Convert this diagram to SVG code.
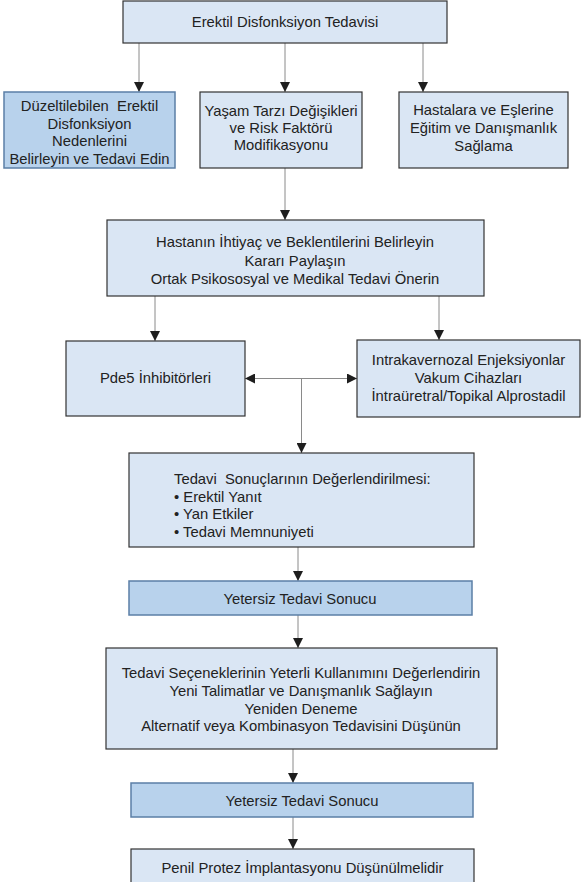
<svg xmlns="http://www.w3.org/2000/svg" width="581" height="882" viewBox="0 0 581 882">
  <style>
    .box { fill: #dae6f4; stroke: #333333; stroke-width: 1.2; }
    .hl { fill: #b8d2ec; stroke: #5b7fa6; stroke-width: 1.5; }
    text { font-family: "Liberation Sans", Arial, sans-serif; font-size: 14.8px; fill: #222222; }
    .c { text-anchor: middle; }
    .pre { white-space: pre; }
    .edge { stroke: #8a8a8a; stroke-width: 1; fill: none; }
  </style>
  <defs>
    <marker id="arr" viewBox="0 0 10 10" refX="10" refY="5" markerWidth="10" markerHeight="10" markerUnits="userSpaceOnUse" orient="auto">
      <path d="M0,0 L10,5 L0,10 Z" fill="#1e1e1e"/>
    </marker>
  </defs>
  <rect width="581" height="882" fill="#ffffff"/>

  <g id="connectors">
    <line class="edge" x1="139" y1="43" x2="139" y2="92" marker-end="url(#arr)"/>
    <line class="edge" x1="285" y1="43" x2="285" y2="92" marker-end="url(#arr)"/>
    <line class="edge" x1="423" y1="43" x2="423" y2="92" marker-end="url(#arr)"/>
    <line class="edge" x1="285" y1="168" x2="285" y2="220" marker-end="url(#arr)"/>
    <line class="edge" x1="155" y1="296" x2="155" y2="341" marker-end="url(#arr)"/>
    <line class="edge" x1="439" y1="296" x2="439" y2="340" marker-end="url(#arr)"/>
    <line class="edge" x1="300" y1="378.5" x2="245" y2="378.5" marker-end="url(#arr)"/>
    <line class="edge" x1="300" y1="378.5" x2="357" y2="378.5" marker-end="url(#arr)"/>
    <line class="edge" x1="301.5" y1="378.5" x2="301.5" y2="453" marker-end="url(#arr)"/>
    <line class="edge" x1="298" y1="547" x2="298" y2="581" marker-end="url(#arr)"/>
    <line class="edge" x1="298" y1="615" x2="298" y2="648" marker-end="url(#arr)"/>
    <line class="edge" x1="293" y1="749" x2="293" y2="783" marker-end="url(#arr)"/>
    <line class="edge" x1="293" y1="817" x2="293" y2="849" marker-end="url(#arr)"/>
  </g>

  <g id="n-top">
    <rect class="box" x="123" y="1" width="324" height="42"/>
    <text class="c" x="285" y="27">Erektil Disfonksiyon Tedavisi</text>
  </g>

  <g id="n-causes">
    <rect class="hl" x="4" y="92" width="171" height="76"/>
    <text class="c pre" x="89.5" y="111" xml:space="preserve">Düzeltilebilen  Erektil</text>
    <text class="c" x="89.5" y="128.5">Disfonksiyon</text>
    <text class="c" x="89.5" y="146">Nedenlerini</text>
    <text class="c" x="89.5" y="164">Belirleyin ve Tedavi Edin</text>
  </g>

  <g id="n-lifestyle">
    <rect class="box" x="200" y="92" width="162" height="76"/>
    <text class="c" x="281" y="116">Yaşam Tarzı Değişikleri</text>
    <text class="c" x="281" y="133">ve Risk Faktörü</text>
    <text class="c" x="281" y="150">Modifikasyonu</text>
  </g>

  <g id="n-education">
    <rect class="box" x="399" y="92" width="169" height="76"/>
    <text class="c" x="483.5" y="115">Hastalara ve Eşlerine</text>
    <text class="c" x="483.5" y="133">Eğitim ve Danışmanlık</text>
    <text class="c" x="483.5" y="151">Sağlama</text>
  </g>

  <g id="n-needs">
    <rect class="box" x="107" y="220" width="377" height="76"/>
    <text class="c" x="295" y="247">Hastanın İhtiyaç ve Beklentilerini Belirleyin</text>
    <text class="c" x="295" y="265.5">Kararı Paylaşın</text>
    <text class="c" x="295" y="284">Ortak Psikososyal ve Medikal Tedavi Önerin</text>
  </g>

  <g id="n-pde5">
    <rect class="box" x="66" y="341" width="179" height="75"/>
    <text class="c" x="155.5" y="383">Pde5 İnhibitörleri</text>
  </g>

  <g id="n-second-line">
    <rect class="box" x="357" y="340" width="223" height="77"/>
    <text class="c" x="468.5" y="365">Intrakavernozal Enjeksiyonlar</text>
    <text class="c" x="468.5" y="383">Vakum Cihazları</text>
    <text class="c" x="468.5" y="401">İntraüretral/Topikal Alprostadil</text>
  </g>

  <g id="n-assess">
    <rect class="box" x="129" y="453" width="345" height="94"/>
    <text class="pre" x="174" y="484" xml:space="preserve">Tedavi  Sonuçlarının Değerlendirilmesi:</text>
    <text x="174" y="501.5">• Erektil Yanıt</text>
    <text x="174" y="519">• Yan Etkiler</text>
    <text x="174" y="537">• Tedavi Memnuniyeti</text>
  </g>

  <g id="n-fail-1">
    <rect class="hl" x="129" y="581" width="343" height="34"/>
    <text class="c" x="300" y="604">Yetersiz Tedavi Sonucu</text>
  </g>

  <g id="n-review">
    <rect class="box" x="106" y="648" width="391" height="101"/>
    <text class="c" x="301" y="678">Tedavi Seçeneklerinin Yeterli Kullanımını Değerlendirin</text>
    <text class="c" x="301" y="696">Yeni Talimatlar ve Danışmanlık Sağlayın</text>
    <text class="c" x="301" y="713.5">Yeniden Deneme</text>
    <text class="c" x="301" y="731">Alternatif veya Kombinasyon Tedavisini Düşünün</text>
  </g>

  <g id="n-fail-2">
    <rect class="hl" x="131" y="783" width="342" height="34"/>
    <text class="c" x="302" y="806">Yetersiz Tedavi Sonucu</text>
  </g>

  <g id="n-prosthesis">
    <rect class="box" x="131" y="849" width="343" height="50"/>
    <text class="c" x="302.5" y="872.5">Penil Protez İmplantasyonu Düşünülmelidir</text>
  </g>
</svg>
